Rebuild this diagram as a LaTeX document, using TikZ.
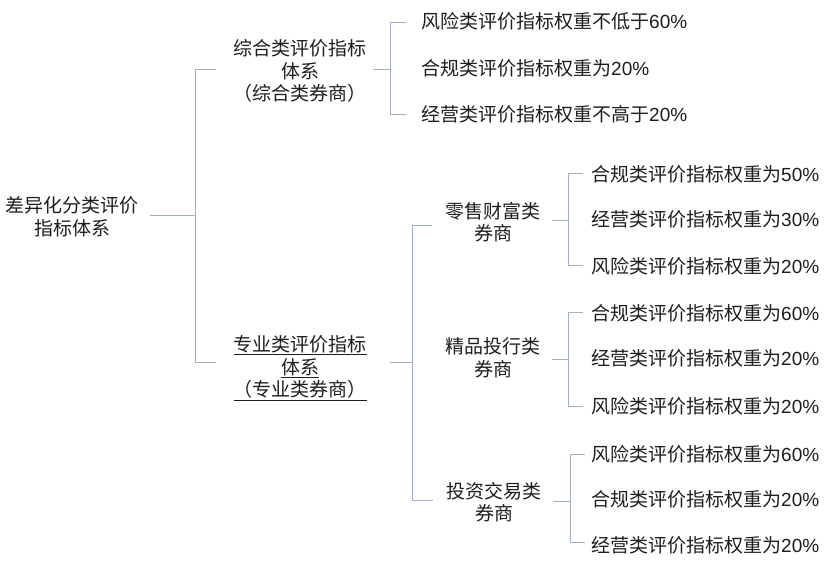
\documentclass[tikz,border=0pt]{standalone}
\usepackage{fontspec}
\setmainfont{Noto Sans CJK SC}
\newfontfamily\lat{Liberation Sans}
\definecolor{conncol}{RGB}{162,176,196}
\definecolor{txtcol}{RGB}{30,30,30}
\begin{document}
\begin{tikzpicture}[x=1pt,y=-1pt,
  conn/.style={draw=conncol,line width=0.9pt},
  lbl/.style={text=txtcol,align=center,inner sep=0pt,font=\fontsize{19}{22.5}\selectfont},
  leaf/.style={text=txtcol,anchor=west,inner sep=0pt,font=\fontsize{19}{22.5}\selectfont}]
\useasboundingbox[fill=white] (0,0) rectangle (832,560);

% nodes
\node[lbl] (root) at (72,217) {差异化分类评价\\指标体系};
\node[lbl] (n1) at (300,71) {综合类评价指标\\体系\\（综合类券商）};
\node[lbl] (n2) at (300,368) {\underline{专业类评价指标}\\\underline{体系}\\\underline{（专业类券商）}};
\node[lbl] (a) at (493,222) {零售财富类\\券商};
\node[lbl] (b) at (493,358) {精品投行类\\券商};
\node[lbl] (c) at (494,502) {投资交易类\\券商};

\node[leaf] (l11) at (421,21) {风险类评价指标权重不低于{\lat 60\%}};
\node[leaf] (l12) at (421,68) {合规类评价指标权重为{\lat 20\%}};
\node[leaf] (l13) at (421,114) {经营类评价指标权重不高于{\lat 20\%}};

\node[leaf] (la1) at (591,174) {合规类评价指标权重为{\lat 50\%}};
\node[leaf] (la2) at (591,219) {经营类评价指标权重为{\lat 30\%}};
\node[leaf] (la3) at (591,266) {风险类评价指标权重为{\lat 20\%}};

\node[leaf] (lb1) at (591,313) {合规类评价指标权重为{\lat 60\%}};
\node[leaf] (lb2) at (591,358) {经营类评价指标权重为{\lat 20\%}};
\node[leaf] (lb3) at (591,406) {风险类评价指标权重为{\lat 20\%}};

\node[leaf] (lc1) at (591,454) {风险类评价指标权重为{\lat 60\%}};
\node[leaf] (lc2) at (591,499) {合规类评价指标权重为{\lat 20\%}};
\node[leaf] (lc3) at (591,545) {经营类评价指标权重为{\lat 20\%}};

% junction coordinates
\coordinate (r-out) at (150,215);
\coordinate (r-j) at (195,215);
\coordinate (r-t) at (195,69);
\coordinate (r-b) at (195,362);
\coordinate (n1-in) at (216,69);
\coordinate (n2-in) at (216,362);

\coordinate (n1-out) at (373,69);
\coordinate (n1-j) at (390,69);
\coordinate (n1-t) at (390,22);
\coordinate (n1-b) at (390,114);
\coordinate (l11-in) at (406,22);
\coordinate (l13-in) at (406,114);

\coordinate (n2-out) at (390,362);
\coordinate (n2-j) at (412,362);
\coordinate (n2-t) at (412,225);
\coordinate (n2-b) at (412,500);
\coordinate (a-in) at (432,225);
\coordinate (c-in) at (433,500);

\coordinate (a-out) at (552,220);
\coordinate (a-j) at (568,220);
\coordinate (a-t) at (568,173);
\coordinate (a-b) at (568,265);
\coordinate (la1-in) at (583,173);
\coordinate (la3-in) at (583,265);

\coordinate (b-out) at (552,359);
\coordinate (b-j) at (568,359);
\coordinate (b-t) at (568,312);
\coordinate (b-b) at (568,406);
\coordinate (lb1-in) at (583,312);
\coordinate (lb3-in) at (583,406);

\coordinate (c-out) at (553,501);
\coordinate (c-j) at (570,501);
\coordinate (c-t) at (570,454);
\coordinate (c-b) at (570,542);
\coordinate (lc1-in) at (585,454);
\coordinate (lc3-in) at (585,542);

% connectors
\draw[conn] (r-out) -- (r-j);
\draw[conn] (n1-in) -- (r-t) -- (r-b) -- (n2-in);

\draw[conn] (n1-out) -- (n1-j);
\draw[conn] (l11-in) -- (n1-t) -- (n1-b) -- (l13-in);

\draw[conn] (n2-out) -- (n2-j);
\draw[conn] (a-in) -- (n2-t) -- (n2-b) -- (c-in);

\draw[conn] (a-out) -- (a-j);
\draw[conn] (la1-in) -- (a-t) -- (a-b) -- (la3-in);

\draw[conn] (b-out) -- (b-j);
\draw[conn] (lb1-in) -- (b-t) -- (b-b) -- (lb3-in);

\draw[conn] (c-out) -- (c-j);
\draw[conn] (lc1-in) -- (c-t) -- (c-b) -- (lc3-in);
\end{tikzpicture}
\end{document}
